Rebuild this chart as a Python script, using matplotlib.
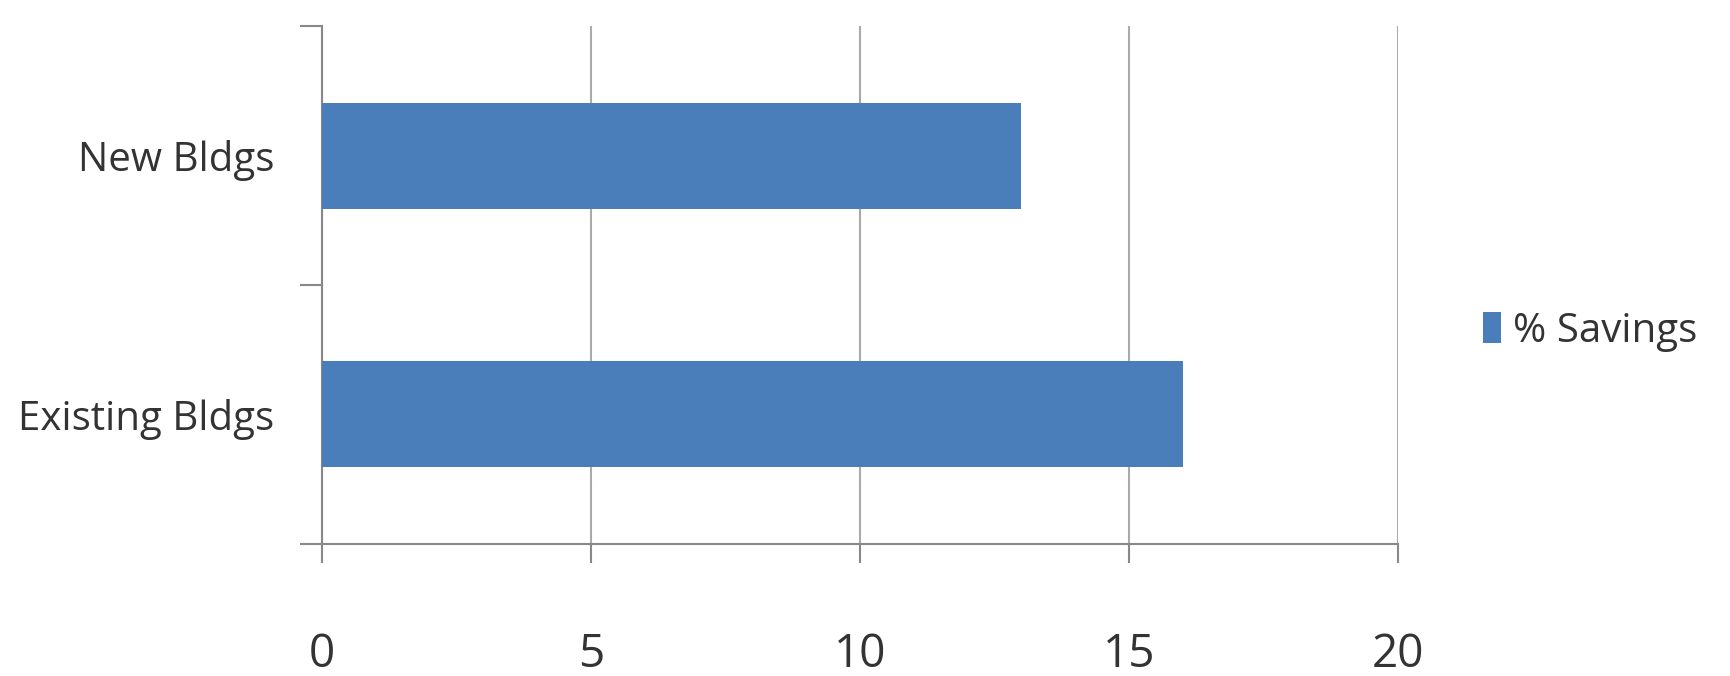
import matplotlib.pyplot as plt
from matplotlib.ticker import FixedLocator

# data
categories = ['Existing Bldgs', 'New Bldgs']
savings = [16, 13]
x_ticks = [0, 5, 10, 15, 20]
series_name = '% Savings'

plt.rcParams['font.family'] = ['Open Sans', 'DejaVu Sans']

fig = plt.figure(figsize=(17.30, 6.76), dpi=100)
ax = fig.add_axes([0.186, 0.196, 0.622, 0.765])

bar_color = '#4A7EBB'
ax.barh(categories, savings, height=0.41, color=bar_color, label=series_name, zorder=3)

ax.set_xlim(0, 20)
ax.set_ylim(-0.5, 1.5)
ax.set_xticks(x_ticks)
ax.set_xticklabels([str(t) for t in x_ticks])

# category boundaries get the tick marks, labels sit in between
ax.yaxis.set_minor_locator(FixedLocator([-0.5, 0.5, 1.5]))
ax.tick_params(axis='y', which='major', length=0, pad=34, labelsize=29, labelcolor='#333333')
ax.tick_params(axis='y', which='minor', length=16, width=1.5, color='#888888')
ax.tick_params(axis='x', which='major', length=14, width=1.5, color='#888888',
               pad=50, labelsize=33, labelcolor='#333333')

ax.grid(axis='x', color='#AAAAAA', linewidth=1.5, zorder=0)
for side in ['top', 'right']:
    ax.spines[side].set_visible(False)
for side in ['left', 'bottom']:
    ax.spines[side].set_color('#888888')
    ax.spines[side].set_linewidth(1.5)

ax.legend(loc='center left', bbox_to_anchor=(1.045, 0.41), frameon=False,
          fontsize=29, handlelength=0.45, handleheight=0.8, handletextpad=0.3,
          labelcolor='#333333')

fig.savefig('out.png', dpi=100)
